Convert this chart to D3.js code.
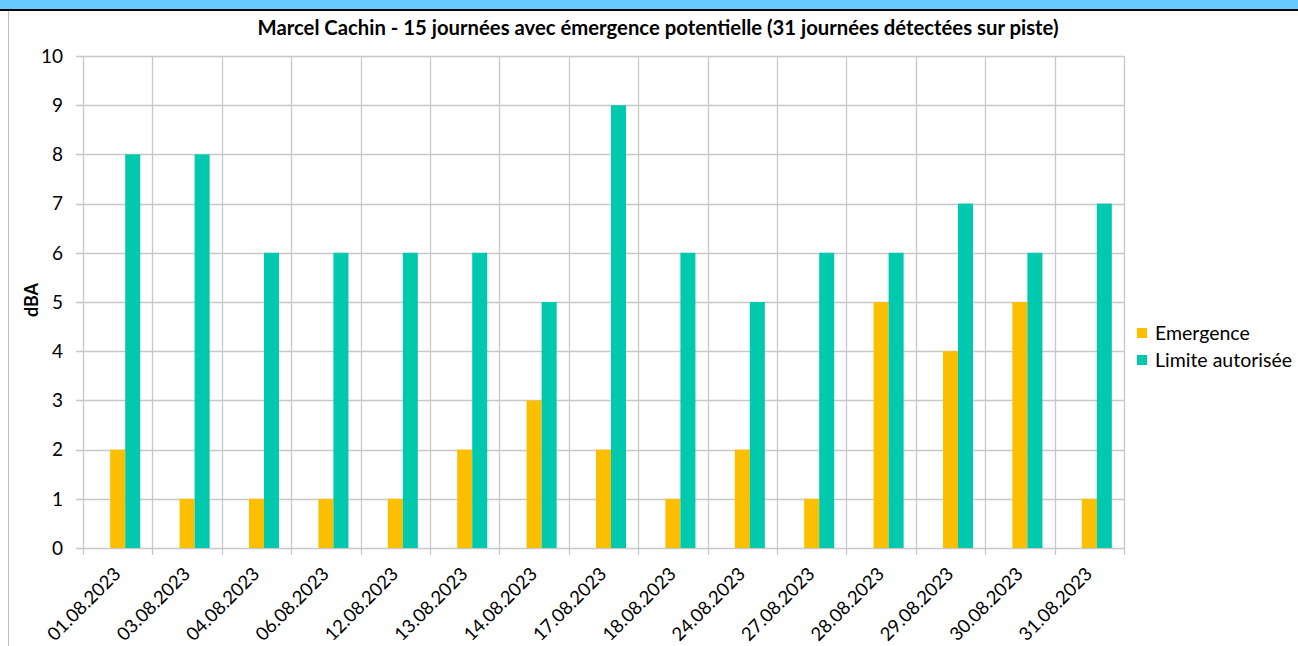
<!DOCTYPE html>
<html>
<head>
<meta charset="utf-8">
<script src="https://cdn.jsdelivr.net/npm/d3@7"></script>
<style>
  body { margin: 0; background: #fff; }
  svg text { font-family: Lato, "Open Sans", sans-serif; fill: #000; }
</style>
</head>
<body>
<div id="chart"></div>
<script>
// chart data
var dates = ["01.08.2023", "03.08.2023", "04.08.2023", "06.08.2023", "12.08.2023",
             "13.08.2023", "14.08.2023", "17.08.2023", "18.08.2023", "24.08.2023",
             "27.08.2023", "28.08.2023", "29.08.2023", "30.08.2023", "31.08.2023"];
var emergence = [2, 1, 1, 1, 1, 2, 3, 2, 1, 2, 1, 5, 4, 5, 1];
var limite = [8, 8, 6, 6, 6, 6, 5, 9, 6, 5, 6, 6, 7, 6, 7];
var series_names = ["Emergence", "Limite autorisée"];
var y_ticks = [0, 1, 2, 3, 4, 5, 6, 7, 8, 9, 10];
var title_text = "Marcel Cachin - 15 journées avec émergence potentielle (31 journées détectées sur piste)";

// layout settings
var width = 1298;
var height = 646;
var plot_left = 83;
var plot_right = 1124;
var plot_top = 56;
var plot_bottom = 548;
var grid_color = "#c8c8c8";
var colors = ["#fbbf00", "#00c9ad"];

var svg = d3.select("#chart")
    .append("svg")
    .attr("width", width)
    .attr("height", height);

// frame: blue strip on top, black rule, grey left edge
svg.append("rect").attr("x", 0).attr("y", 0).attr("width", width).attr("height", 9).attr("fill", "#66ccff");
svg.append("rect").attr("x", 0).attr("y", 9).attr("width", width).attr("height", 2).attr("fill", "#000");
svg.append("line").attr("x1", 8.5).attr("x2", 8.5).attr("y1", 11).attr("y2", height)
    .attr("stroke", "#bdbdbd").attr("stroke-width", 1);

var x = d3.scaleBand()
    .domain(dates)
    .range([plot_left, plot_right])
    .padding(0);

// three slots per date, the first one stays empty (as in the original sheet)
var xInner = d3.scaleBand()
    .domain(["_blank"].concat(series_names))
    .range([0, x.bandwidth()])
    .paddingInner(0)
    .paddingOuter(0.81);

var y = d3.scaleLinear()
    .domain([0, 10])
    .range([plot_bottom, plot_top]);

// horizontal gridlines with small ticks on the left
svg.append("g")
    .selectAll("line")
    .data(y_ticks)
    .enter().append("line")
    .attr("x1", plot_left - 7)
    .attr("x2", plot_right)
    .attr("y1", function(d) { return Math.round(y(d)) + 0.5; })
    .attr("y2", function(d) { return Math.round(y(d)) + 0.5; })
    .attr("stroke", grid_color)
    .attr("stroke-width", 1.3);

// vertical gridlines at category boundaries
var bounds = dates.map(function(d) { return x(d); }).concat([plot_right]);
svg.append("g")
    .selectAll("line")
    .data(bounds)
    .enter().append("line")
    .attr("x1", function(d) { return Math.round(d) + 0.5; })
    .attr("x2", function(d) { return Math.round(d) + 0.5; })
    .attr("y1", plot_top)
    .attr("y2", plot_bottom + 7)
    .attr("stroke", grid_color)
    .attr("stroke-width", 1.3);

// bars
var rows = dates.map(function(d, i) {
    return { date: d, values: [emergence[i], limite[i]] };
});
var groups = svg.append("g")
    .selectAll("g")
    .data(rows)
    .enter().append("g")
    .attr("transform", function(d) { return "translate(" + x(d.date) + ",0)"; });

groups.selectAll("rect")
    .data(function(d) {
        return d.values.map(function(v, k) { return { name: series_names[k], value: v, k: k }; });
    })
    .enter().append("rect")
    .attr("x", function(d) { return xInner(d.name); })
    .attr("width", xInner.bandwidth())
    .attr("y", function(d) { return y(d.value); })
    .attr("height", function(d) { return y(0) - y(d.value); })
    .attr("fill", function(d) { return colors[d.k]; });

// y axis labels
svg.append("g")
    .selectAll("text")
    .data(y_ticks)
    .enter().append("text")
    .attr("x", 63)
    .attr("y", function(d) { return y(d); })
    .attr("dy", "0.36em")
    .attr("text-anchor", "end")
    .attr("font-size", 19)
    .text(function(d) { return d; });

// x axis labels, rotated
svg.append("g")
    .selectAll("text")
    .data(dates)
    .enter().append("text")
    .attr("transform", function(d) {
        return "translate(" + (x(d) + x.bandwidth() / 2 - 5) + "," + (plot_bottom + 18) + ") rotate(-45)";
    })
    .attr("text-anchor", "end")
    .attr("dy", "0.7em")
    .attr("font-size", 18.5)
    .text(function(d) { return d; });

// y axis title
svg.append("text")
    .attr("transform", "translate(38," + 300 + ") rotate(-90)")
    .attr("text-anchor", "middle")
    .attr("font-size", 18)
    .attr("font-weight", "bold")
    .text("dBA");

// chart title
svg.append("text")
    .attr("x", 658)
    .attr("y", 35)
    .attr("text-anchor", "middle")
    .attr("font-size", 20.3)
    .attr("font-weight", "bold")
    .text(title_text);

// legend
var legend = svg.append("g")
    .selectAll("g")
    .data(series_names)
    .enter().append("g")
    .attr("transform", function(d, i) { return "translate(1137," + (328 + i * 27) + ")"; });
legend.append("rect")
    .attr("width", 10)
    .attr("height", 10)
    .attr("fill", function(d, i) { return colors[i]; });
legend.append("text")
    .attr("x", 18)
    .attr("y", 5)
    .attr("dy", "0.36em")
    .attr("font-size", 19.5)
    .text(function(d) { return d; });
</script>
</body>
</html>
